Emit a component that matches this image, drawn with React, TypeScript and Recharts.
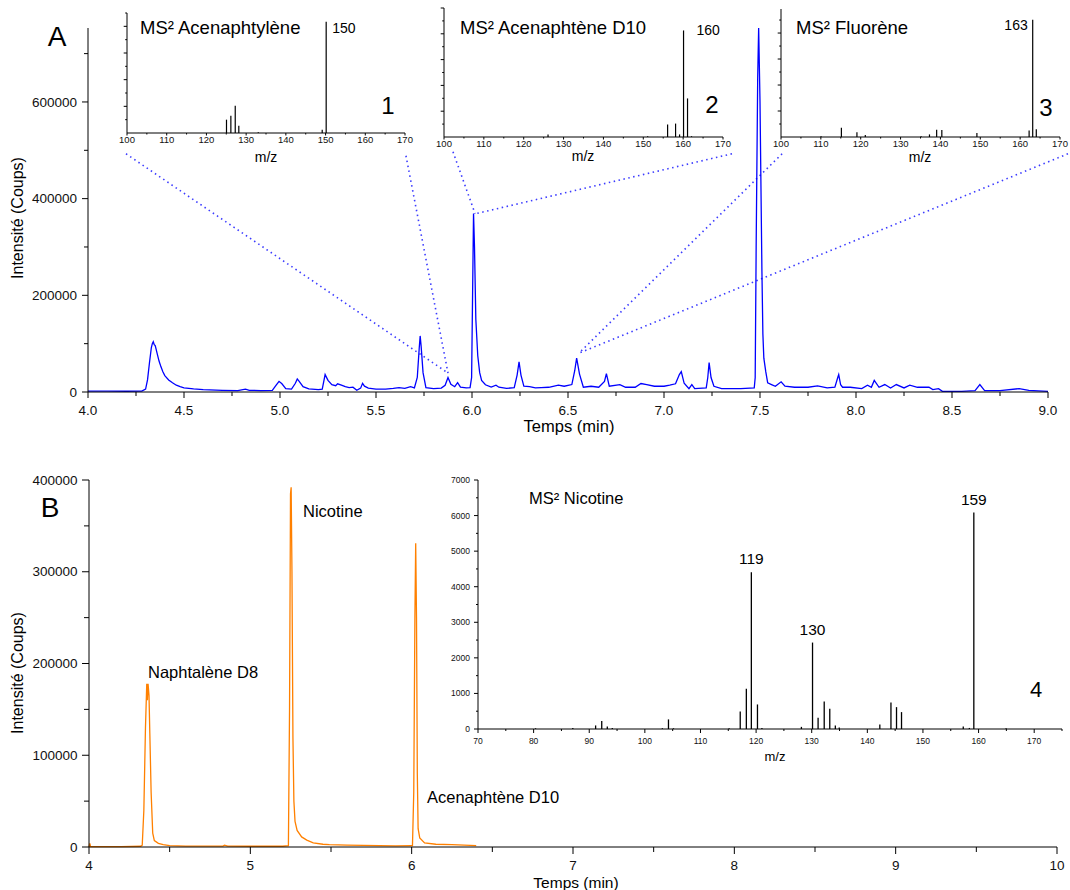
import React from 'react';
import { LineChart, Line, XAxis, YAxis, BarChart, Bar, LabelList, ReferenceLine } from 'recharts';

const FONT = 'Arial, "Liberation Sans", Helvetica, sans-serif';

// ---------- Panel A : chromatogram (blue) ----------
const timesA = [
  4.0, 4.1, 4.2, 4.28, 4.3, 4.31, 4.32, 4.33, 4.335, 4.34, 4.345, 4.35, 4.355, 4.36, 4.37, 4.38, 4.39, 4.4,
  4.42, 4.44, 4.46, 4.48, 4.5, 4.55, 4.6, 4.7, 4.78, 4.82, 4.84, 4.9, 4.96, 4.98, 4.995, 5.01, 5.03, 5.06,
  5.08, 5.09, 5.1, 5.12, 5.15, 5.2, 5.22, 5.235, 5.25, 5.27, 5.29, 5.3, 5.32, 5.34, 5.36, 5.38, 5.4, 5.42,
  5.43, 5.44, 5.46, 5.5, 5.55, 5.59, 5.62, 5.65, 5.68, 5.7, 5.715, 5.725, 5.73, 5.735, 5.745, 5.76, 5.8,
  5.84, 5.86, 5.875, 5.89, 5.91, 5.925, 5.94, 5.97, 5.99, 5.998, 6.003, 6.008, 6.013, 6.02, 6.03, 6.04,
  6.05, 6.07, 6.1, 6.125, 6.14, 6.18, 6.22, 6.235, 6.245, 6.255, 6.27, 6.3, 6.33, 6.36, 6.4, 6.45, 6.48,
  6.52, 6.535, 6.545, 6.56, 6.58, 6.62, 6.66, 6.69, 6.7, 6.715, 6.77, 6.8, 6.85, 6.88, 6.91, 6.95, 7.0,
  7.03, 7.06, 7.08, 7.09, 7.105, 7.13, 7.145, 7.16, 7.22, 7.228, 7.235, 7.245, 7.26, 7.3, 7.4, 7.47,
  7.475, 7.48, 7.488, 7.493, 7.5, 7.51, 7.515, 7.52, 7.53, 7.54, 7.56, 7.58, 7.61, 7.63, 7.68, 7.75,
  7.8, 7.85, 7.89, 7.905, 7.91, 7.92, 7.93, 7.97, 8.03, 8.06, 8.08, 8.095, 8.12, 8.15, 8.18, 8.21, 8.25,
  8.28, 8.32, 8.38, 8.4, 8.43, 8.45, 8.55, 8.62, 8.645, 8.67, 8.75, 8.85, 8.9, 9.0,
];
const countsA = [
  2000, 1800, 1600, 1800, 6000, 25000, 60000, 92000, 100000, 104000, 98000, 96000, 88000, 80000, 64000, 52000, 42000, 34000,
  25000, 19000, 14000, 11000, 8500, 6500, 5000, 3500, 3000, 6000, 3500, 3000, 3200, 14000, 22000, 17000, 7000, 6000,
  18000, 27000, 22000, 11000, 6500, 5000, 6000, 36000, 24000, 15000, 13000, 17000, 14000, 11000, 9000, 10000, 3500, 8000,
  18000, 12000, 8000, 6000, 6000, 7500, 9000, 7500, 11000, 8500, 30000, 90000, 116000, 95000, 40000, 9000, 7000,
  8000, 14000, 30000, 16000, 11000, 19500, 10000, 8500, 9000, 30000, 200000, 369000, 300000, 150000, 75000, 40000,
  24000, 15000, 10000, 14000, 10000, 7500, 9000, 35000, 62500, 35000, 12000, 11000, 8400, 9000, 9800, 14000, 11900,
  15400, 44000, 70000, 37000, 9800, 11900, 9800, 22000, 38000, 12000, 15400, 9800, 9800, 17500, 15400, 11900, 11900,
  14000, 17000, 36000, 42000, 18000, 7000, 15400, 7000, 8400, 30000, 61000, 30000, 11900, 7000, 7000, 8400,
  30000, 300000, 650000, 753000, 600000, 250000, 120000, 70000, 42000, 19000, 15400, 11900, 21000, 11900, 9800, 9800,
  12600, 8400, 9800, 30000, 36000, 15000, 9800, 9800, 7000, 14000, 9800, 24000, 9800, 15400, 8400, 15400, 8400,
  14000, 9800, 9800, 4900, 7000, 1400, 1400, 2800, 15400, 2800, 2800, 7000, 3500, 1400,
];

// ---------- Panel B : chromatogram (orange) ----------
const timesB = [
  4.0, 4.005, 4.01, 4.1, 4.2, 4.32, 4.33, 4.34, 4.35, 4.358, 4.362, 4.366, 4.372, 4.377, 4.385, 4.395, 4.405,
  4.43, 4.46, 4.5, 4.6, 4.83, 4.84, 4.86, 5.0, 5.2, 5.236, 5.243, 5.249, 5.253, 5.258, 5.264, 5.27, 5.277,
  5.29, 5.318, 5.35, 5.39, 5.45, 5.49, 5.6, 5.7, 5.8, 5.9, 6.0, 6.005, 6.013, 6.02, 6.025, 6.03, 6.035, 6.04,
  6.05, 6.08, 6.15, 6.25, 6.4,
];
const countsB = [
  0, 4000, 500, 500, 500, 800, 2000, 40000, 130000, 178000, 160000, 178000, 165000, 124000, 60000, 15000, 7000,
  4000, 2500, 1500, 1000, 1000, 2000, 1000, 800, 800, 1500, 150000, 385000, 392000, 300000, 120000, 50000, 28000,
  18000, 11000, 7500, 4400, 3000, 2600, 2000, 1800, 1500, 1200, 1500, 1500, 60000, 250000, 331000, 250000, 80000, 20000,
  10000, 4400, 3000, 2500, 1500,
];

// ---------- MS² spectra ----------
const mzAcenaphtylene = [125.1, 126.2, 127.3, 128.2, 133.1, 149.2, 150.2];
const intAcenaphtylene = [1.0, 1.3, 2.05, 0.55, 0.06, 0.25, 8.35];
const peakAcenaphtylene = [150.2];

const mzAcenaphteneD10 = [126.2, 151.2, 156.2, 158.2, 159.2, 160.2, 161.2, 162.2];
const intAcenaphteneD10 = [0.2, 0.05, 0.96, 1.04, 0.2, 8.26, 2.99, 0.06];
const peakAcenaphteneD10 = [160.2];

const mzFluorene = [110.1, 115.2, 119.1, 121.2, 135.2, 137.3, 139.1, 140.4, 149.2, 162.3, 163.2, 164.1];
const intFluorene = [0.05, 0.72, 0.36, 0.15, 0.05, 0.2, 0.56, 0.54, 0.3, 0.5, 9.03, 0.6];
const peakFluorene = [163.2];

const mzNicotine = [
  80.4, 87.1, 91.2, 92.3, 93.3, 94.2, 103.2, 104.3, 105.2, 115.2, 117.2, 118.3, 119.2, 120.3, 121.1,
  128.2, 130.2, 131.2, 132.3, 133.3, 134.3, 135.0, 142.3, 144.3, 145.3, 146.2, 157.3, 158.4, 159.2, 165.0,
];
const intNicotine = [
  20, 30, 100, 225, 70, 30, 20, 270, 20, 20, 495, 1135, 4405, 690, 30,
  60, 2430, 315, 775, 570, 100, 40, 130, 745, 615, 475, 70, 30, 6085, 20,
];
const peakNicotine = [119.2, 130.2, 159.2];

// ---------- axis ticks ----------
const majorsAX = [4.0, 4.5, 5.0, 5.5, 6.0, 6.5, 7.0, 7.5, 8.0, 8.5, 9.0];
const minorsAX = [4.25, 4.75, 5.25, 5.75, 6.25, 6.75, 7.25, 7.75, 8.25, 8.75];
const majorsAY = [0, 200000, 400000, 600000];
const minorsAY = [100000, 300000, 500000, 700000];

const majorsBX = [4, 5, 6, 7, 8, 9, 10];
const minorsBX = [4.5, 5.5, 6.5, 7.5, 8.5, 9.5];
const majorsBY = [0, 100000, 200000, 300000, 400000];
const minorsBY = [50000, 150000, 250000, 350000];

const majorsMsX = [100, 110, 120, 130, 140, 150, 160, 170];
const minorsMsX = [105, 115, 125, 135, 145, 155, 165];
const majorsMsY = [2, 4, 6, 8, 10];
const minorsMsY = [1, 3, 5, 7, 9];

const majorsNicX = [70, 80, 90, 100, 110, 120, 130, 140, 150, 160, 170];
const minorsNicX = [75, 85, 95, 105, 115, 125, 135, 145, 155, 165, 175];
const majorsNicY = [0, 1000, 2000, 3000, 4000, 5000, 6000, 7000];
const minorsNicY = [500, 1500, 2500, 3500, 4500, 5500, 6500];

// connectors (data coordinates of panel A): from inset corner to peak
const connectorsA = [
  [4.198, 492800, 5.875, 39200],
  [5.656, 488700, 5.875, 39200],
  [5.901, 496900, 6.016, 369000],
  [7.354, 492800, 6.021, 369000],
  [7.615, 492800, 6.557, 80400],
  [9.104, 492800, 6.557, 80400],
];

// ---------- builders ----------
const dataA = timesA.map((t, i) => ({ t, v: countsA[i] }));
const dataB = timesB.map((t, i) => ({ t, v: countsB[i] }));
const spectrum = (mz: number[], it: number[], peaks: number[]) =>
  mz.map((m, i) => ({
    mz: m,
    i: it[i],
    label: peaks.some((p) => Math.abs(p - m) < 1e-6) ? String(Math.round(m)) : undefined,
  }));

const isIn = (arr: number[], v: number) => arr.some((a) => Math.abs(a - v) < 1e-6);

type TickOpts = {
  side: 'left' | 'bottom';
  majors: number[];
  major: number;
  minor: number;
  gap: number;
  fontSize: number;
  fmt?: (v: number) => string;
};

function makeTick(o: TickOpts) {
  return (p: any) => {
    const { x, y, payload } = p;
    const v = payload.value;
    const maj = isIn(o.majors, v);
    const L = maj ? o.major : o.minor;
    const label = maj && o.fmt ? o.fmt(v) : null;
    if (o.side === 'left') {
      return (
        <g>
          <line x1={x - L} y1={y} x2={x} y2={y} stroke="#000" strokeWidth={1} />
          {label !== null && (
            <text x={x - L - o.gap} y={y} dy="0.35em" textAnchor="end" fontSize={o.fontSize} fontFamily={FONT} fill="#111">
              {label}
            </text>
          )}
        </g>
      );
    }
    return (
      <g>
        <line x1={x} y1={y} x2={x} y2={y + L} stroke="#000" strokeWidth={1} />
        {label !== null && (
          <text x={x} y={y + L + o.gap} dy="0.71em" textAnchor="middle" fontSize={o.fontSize} fontFamily={FONT} fill="#111">
            {label}
          </text>
        )}
      </g>
    );
  };
}

function peakLabel(side: 'left' | 'right' | 'top', dx: number, dy: number, fontSize: number) {
  return (p: any) => {
    const { x, y, width, value } = p;
    if (value === undefined || value === null || value === '') return null;
    const cx = Number(x) + Number(width) / 2;
    const anchor = side === 'left' ? 'end' : side === 'right' ? 'start' : 'middle';
    const tx = side === 'left' ? cx - dx : side === 'right' ? cx + dx : cx;
    return (
      <text x={tx} y={Number(y) + dy} textAnchor={anchor} fontSize={fontSize} fontFamily={FONT} fill="#000">
        {value}
      </text>
    );
  };
}

const axisStyle = { stroke: '#000', strokeWidth: 1 };

function Txt(props: { x: number; y: number; size: number; children: React.ReactNode; anchor?: 'left' | 'center' }) {
  const { x, y, size, children, anchor } = props;
  const tx = anchor === 'left' ? '0' : '-50%';
  return (
    <div
      style={{
        position: 'absolute',
        left: x,
        top: y,
        transform: `translate(${tx}, -50%)`,
        fontSize: size,
        lineHeight: 1,
        whiteSpace: 'nowrap',
        fontFamily: FONT,
        color: '#000',
      }}
    >
      {children}
    </div>
  );
}

function RotTxt(props: { x: number; y: number; size: number; children: React.ReactNode }) {
  const { x, y, size, children } = props;
  return (
    <div
      style={{
        position: 'absolute',
        left: x,
        top: y,
        transform: 'translate(-50%, -50%) rotate(-90deg)',
        fontSize: size,
        lineHeight: 1,
        whiteSpace: 'nowrap',
        fontFamily: FONT,
        color: '#000',
      }}
    >
      {children}
    </div>
  );
}

function MsInset(props: {
  left: number; top: number; plotWidth: number; height: number; marginTop: number;
  data: any[]; yMax: number; side: 'left' | 'right'; dx: number; dy: number;
}) {
  const { left, top, plotWidth, height, marginTop, data, yMax, side, dx, dy } = props;
  return (
    <div style={{ position: 'absolute', left, top }}>
      <BarChart width={30 + plotWidth + 12} height={height} data={data} margin={{ top: marginTop, right: 12, left: 0, bottom: 0 }} barSize={1.2}>
        <XAxis
          dataKey="mz" type="number" domain={[100, 170]} ticks={[...majorsMsX, ...minorsMsX]} interval={0}
          tickLine={false} tickSize={0} tickMargin={0} axisLine={axisStyle} height={16}
          tick={makeTick({ side: 'bottom', majors: majorsMsX, major: 2.5, minor: 1.5, gap: 0.5, fontSize: 9.5, fmt: (v) => String(v) })}
        />
        <YAxis
          type="number" domain={[0, yMax]} ticks={[...majorsMsY, ...minorsMsY].filter((t) => t <= yMax)} interval={0}
          tickLine={false} tickSize={0} tickMargin={0} axisLine={axisStyle} width={30}
          tick={makeTick({ side: 'left', majors: majorsMsY, major: 3.3, minor: 1.8, gap: 2, fontSize: 9 })}
        />
        <Bar dataKey="i" fill="#000" isAnimationActive={false}>
          <LabelList dataKey="label" content={peakLabel(side, dx, dy, 14)} />
        </Bar>
      </BarChart>
    </div>
  );
}

export default function App() {
  return (
    <div style={{ position: 'absolute', left: 0, top: 0, width: 1070, height: 890, background: '#fff', fontFamily: FONT, overflow: 'hidden' }}>
      {/* Panel A */}
      <div style={{ position: 'absolute', left: 0, top: 0 }}>
        <LineChart width={1070} height={440} data={dataA} margin={{ top: 28, right: 22, left: 0, bottom: 0 }}>
          <XAxis
            dataKey="t" type="number" domain={[4, 9]} ticks={[...majorsAX, ...minorsAX]} interval={0}
            tickLine={false} tickSize={0} tickMargin={0} axisLine={axisStyle} height={48}
            tick={makeTick({ side: 'bottom', majors: majorsAX, major: 6, minor: 4, gap: 7, fontSize: 13.5, fmt: (v) => v.toFixed(1) })}
          />
          <YAxis
            type="number" domain={[0, 753000]} ticks={[...majorsAY, ...minorsAY]} interval={0}
            tickLine={false} tickSize={0} tickMargin={0} axisLine={axisStyle} width={88}
            tick={makeTick({ side: 'left', majors: majorsAY, major: 6, minor: 4, gap: 5, fontSize: 13.5, fmt: (v) => String(v) })}
          />
          {connectorsA.map((c, k) => (
            <ReferenceLine
              key={k}
              segment={[{ x: c[0], y: c[1] }, { x: c[2], y: c[3] }]}
              stroke="#3b3bff"
              strokeWidth={1.6}
              strokeDasharray="1.5 3.5"
              ifOverflow="visible"
            />
          ))}
          <Line type="linear" dataKey="v" stroke="#0000ff" strokeWidth={1.3} dot={false} isAnimationActive={false} />
        </LineChart>
      </div>

      <MsInset left={97} top={0} plotWidth={278} height={149} marginTop={13} yMax={9}
        data={spectrum(mzAcenaphtylene, intAcenaphtylene, peakAcenaphtylene)} side="right" dx={6} dy={11} />
      <MsInset left={414} top={0} plotWidth={279} height={153} marginTop={8} yMax={10}
        data={spectrum(mzAcenaphteneD10, intAcenaphteneD10, peakAcenaphteneD10)} side="right" dx={13} dy={5} />
      <MsInset left={751} top={0} plotWidth={279} height={153} marginTop={9} yMax={9.85}
        data={spectrum(mzFluorene, intFluorene, peakFluorene)} side="left" dx={5} dy={10} />

      {/* Panel B */}
      <div style={{ position: 'absolute', left: 0, top: 460 }}>
        <LineChart width={1070} height={430} data={dataB} margin={{ top: 20, right: 13, left: 0, bottom: 0 }}>
          <XAxis
            dataKey="t" type="number" domain={[4, 10]} ticks={[...majorsBX, ...minorsBX]} interval={0}
            tickLine={false} tickSize={0} tickMargin={0} axisLine={axisStyle} height={43}
            tick={makeTick({ side: 'bottom', majors: majorsBX, major: 7, minor: 5, gap: 6, fontSize: 13.5, fmt: (v) => String(v) })}
          />
          <YAxis
            type="number" domain={[0, 400000]} ticks={[...majorsBY, ...minorsBY]} interval={0}
            tickLine={false} tickSize={0} tickMargin={0} axisLine={axisStyle} width={89}
            tick={makeTick({ side: 'left', majors: majorsBY, major: 7, minor: 5, gap: 4.5, fontSize: 13.5, fmt: (v) => String(v) })}
          />
          <Line type="linear" dataKey="v" stroke="#ff8000" strokeWidth={1.3} dot={false} isAnimationActive={false} />
        </LineChart>
      </div>

      {/* Panel B inset: MS² Nicotine */}
      <div style={{ position: 'absolute', left: 438, top: 470 }}>
        <BarChart width={629} height={279} data={spectrum(mzNicotine, intNicotine, peakNicotine)} margin={{ top: 10, right: 5, left: 0, bottom: 0 }} barSize={1.3}>
          <XAxis
            dataKey="mz" type="number" domain={[70, 175]} ticks={[...majorsNicX, ...minorsNicX]} interval={0}
            tickLine={false} tickSize={0} tickMargin={0} axisLine={axisStyle} height={20}
            tick={makeTick({ side: 'bottom', majors: majorsNicX, major: 4, minor: 2, gap: 4.5, fontSize: 8.5, fmt: (v) => String(v) })}
          />
          <YAxis
            type="number" domain={[0, 7000]} ticks={[...majorsNicY, ...minorsNicY]} interval={0}
            tickLine={false} tickSize={0} tickMargin={0} axisLine={axisStyle} width={40}
            tick={makeTick({ side: 'left', majors: majorsNicY, major: 4, minor: 2, gap: 4, fontSize: 8.5, fmt: (v) => String(v) })}
          />
          <Bar dataKey="i" fill="#000" isAnimationActive={false}>
            <LabelList dataKey="label" content={peakLabel('top', 0, -8, 15.5)} />
          </Bar>
        </BarChart>
      </div>

      {/* Text: panel A */}
      <Txt x={57} y={37} size={28}>A</Txt>
      <RotTxt x={18} y={218} size={16}>Intensité (Coups)</RotTxt>
      <Txt x={569} y={426} size={16.5}>Temps (min)</Txt>

      <Txt x={140} y={28} size={18.5} anchor="left">MS² Acenaphtylène</Txt>
      <Txt x={460} y={28} size={18.5} anchor="left">MS² Acenaphtène D10</Txt>
      <Txt x={796} y={28} size={18.5} anchor="left">MS² Fluorène</Txt>
      <Txt x={388} y={106} size={24}>1</Txt>
      <Txt x={712} y={105} size={24}>2</Txt>
      <Txt x={1046} y={108} size={24}>3</Txt>
      <Txt x={266} y={157} size={14}>m/z</Txt>
      <Txt x={583} y={156} size={14}>m/z</Txt>
      <Txt x={920} y={157} size={14}>m/z</Txt>

      {/* Text: panel B */}
      <Txt x={50} y={508} size={28}>B</Txt>
      <RotTxt x={18} y={673} size={16}>Intensité (Coups)</RotTxt>
      <Txt x={576} y={883} size={15.5}>Temps (min)</Txt>
      <Txt x={148} y={672} size={16.5} anchor="left">Naphtalène D8</Txt>
      <Txt x={303} y={511} size={16.5} anchor="left">Nicotine</Txt>
      <Txt x={427} y={797} size={16.5} anchor="left">Acenaphtène D10</Txt>
      <Txt x={529} y={498} size={16.5} anchor="left">MS² Nicotine</Txt>
      <Txt x={775} y={756} size={13}>m/z</Txt>
      <Txt x={1036} y={690} size={22}>4</Txt>
    </div>
  );
}
